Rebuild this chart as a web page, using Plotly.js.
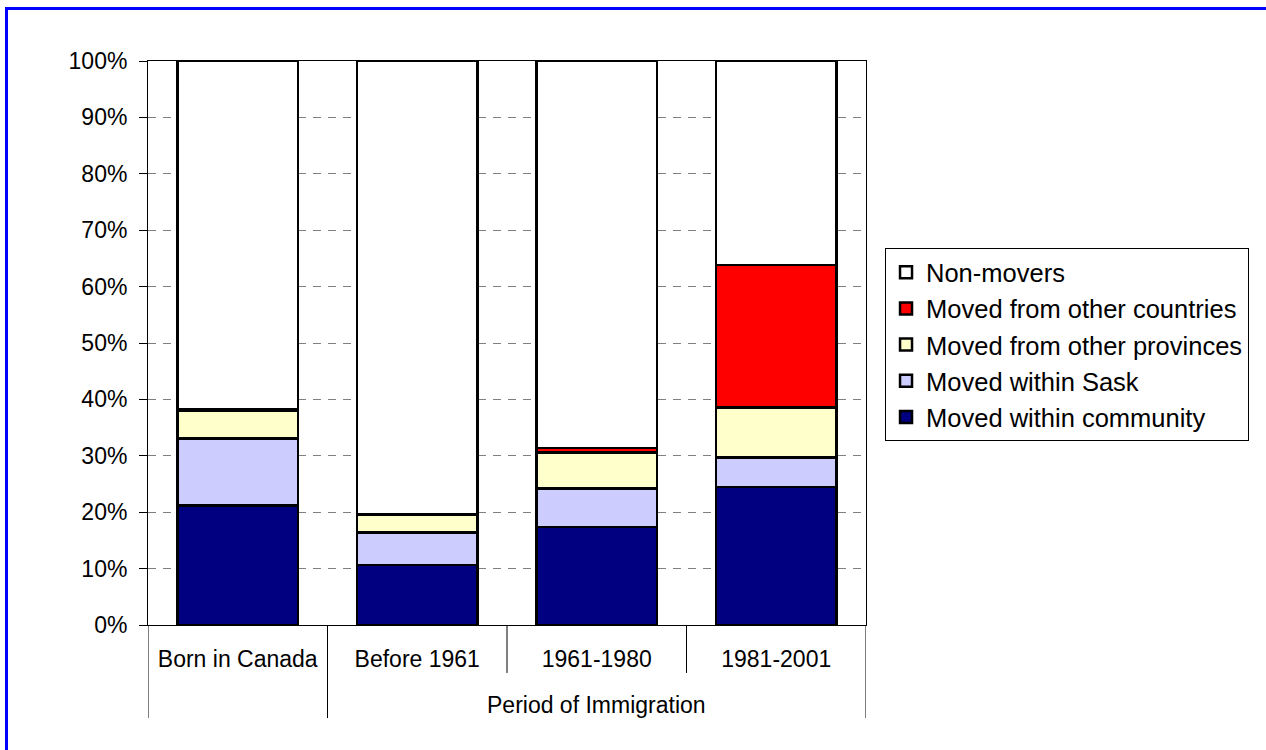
<!DOCTYPE html>
<html>
<head>
<meta charset="utf-8">
<script src="https://cdn.plot.ly/plotly-3.0.1.min.js"></script>
<style>
  html, body { margin: 0; padding: 0; overflow: hidden; background: #fff; }
  #wrap { position: relative; width: 1266px; height: 750px; overflow: hidden; }
  #chart { width: 1266px; height: 750px; }
  .fr { position: absolute; background: #0000ff; pointer-events: none; }
  #frameTop { left: 5px; top: 7px; width: 1261px; height: 3px; }
  #frameLeft { left: 5px; top: 7px; width: 3px; height: 743px; }
</style>
</head>
<body>
<div id="wrap">
  <div id="chart"></div>
  <div id="frameTop" class="fr"></div>
  <div id="frameLeft" class="fr"></div>
</div>
<script>
// ---- data ----
const categories = ["Born in Canada", "Before 1961", "1961-1980", "1981-2001"];
const groupLabel = "Period of Immigration";
const seriesNames = ["Moved within community", "Moved within Sask", "Moved from other provinces", "Moved from other countries", "Non-movers"];
const withinCommunity = [21.2, 10.6, 17.4, 24.5];
const withinSask = [11.9, 5.8, 6.8, 5.2];
const otherProvinces = [4.9, 3.1, 6.4, 8.9];
const otherCountries = [0.2, 0.1, 0.8, 25.2];
const nonMovers = [61.8, 80.4, 68.6, 36.2];
const yTickVals = [0, 10, 20, 30, 40, 50, 60, 70, 80, 90, 100];

const colors = ["#000080", "#ccccff", "#ffffcc", "#ff0000", "#ffffff"];
const values = [withinCommunity, withinSask, otherProvinces, otherCountries, nonMovers];

const FONT = "Liberation Sans, Arial, sans-serif";

const traces = values.map((v, i) => ({
  type: "bar",
  name: seriesNames[i],
  x: categories,
  y: v,
  legendgroup: "g" + i,
  marker: { color: colors[i], line: { color: "#000000", width: 2.5 } },
  hoverinfo: "skip"
}));

// category dividers below the axis
const shapes = [];
const nCat = categories.length;
for (let i = 0; i <= nCat; i++) {
  const long = (i === 0 || i === 1 || i === nCat);
  shapes.push({
    type: "line", xref: "x", yref: "paper",
    x0: i - 0.5, x1: i - 0.5, y0: 0, y1: long ? -0.165 : -0.085,
    line: { color: "#000000", width: 1 }
  });
}

const layout = {
  width: 1266, height: 750,
  margin: { l: 148, r: 400, t: 61, b: 125 },
  paper_bgcolor: "#ffffff",
  plot_bgcolor: "#ffffff",
  barmode: "stack",
  bargap: 0.33,
  showlegend: true,
  font: { family: FONT, size: 23, color: "#000000" },
  xaxis: {
    type: "category",
    range: [-0.5, nCat - 0.5],
    showline: true, linecolor: "#000000", linewidth: 1, mirror: true,
    ticks: "", showgrid: false, zeroline: false,
    ticklabelstandoff: 13,
    tickfont: { family: FONT, size: 23, color: "#000000" }
  },
  yaxis: {
    range: [0, 100],
    tickvals: yTickVals,
    ticktext: yTickVals.map(v => v + "%"),
    ticks: "outside", ticklen: 8, tickcolor: "#000000", tickwidth: 1,
    showline: true, linecolor: "#000000", linewidth: 1, mirror: true,
    showgrid: true, gridcolor: "#808080", gridwidth: 1, griddash: "8px,7px",
    zeroline: false,
    ticklabelstandoff: 7,
    tickfont: { family: FONT, size: 23, color: "#000000" }
  },
  legend: {
    x: 1.0265, xanchor: "left",
    y: 0.668, yanchor: "top",
    traceorder: "reversed",
    bordercolor: "#000000", borderwidth: 1,
    bgcolor: "#ffffff",
    tracegroupgap: 2,
    font: { family: FONT, size: 25.5, color: "#000000" },
    itemwidth: 30
  },
  annotations: [{
    text: groupLabel, xref: "x", yref: "paper",
    x: (1 + nCat - 1) / 2, y: -0.142, xanchor: "center", yanchor: "middle",
    showarrow: false, font: { family: FONT, size: 23, color: "#000000" }
  }],
  shapes: shapes
};

Plotly.newPlot("chart", traces, layout, { displayModeBar: false, staticPlot: true });
</script>
</body>
</html>
